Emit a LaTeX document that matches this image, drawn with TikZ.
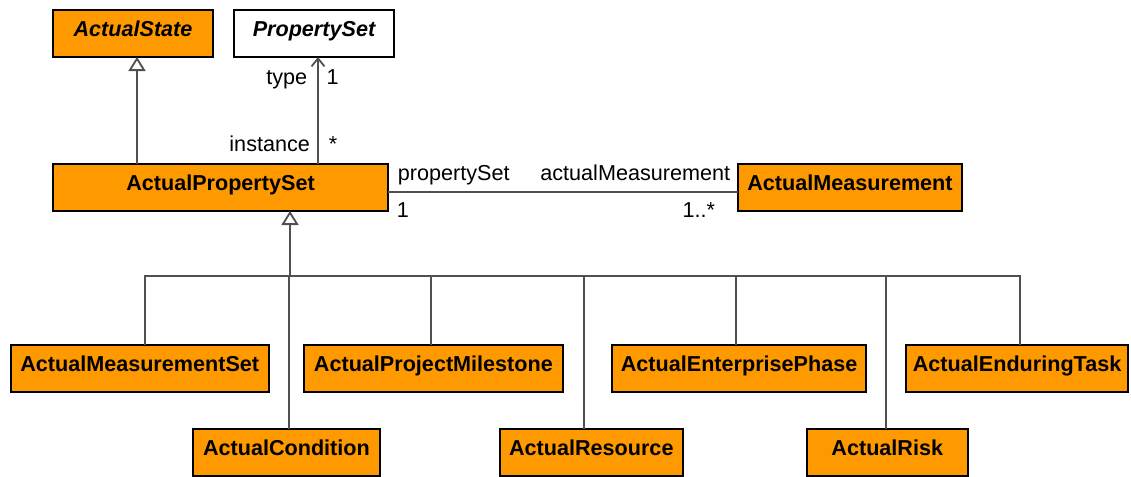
\documentclass[tikz,border=0pt]{standalone}
\usepackage{fontspec}
\setmainfont{Liberation Sans}
\usetikzlibrary{positioning, arrows.meta, calc}
\definecolor{clsorange}{HTML}{FF9900}
\definecolor{linegray}{HTML}{505050}

\begin{document}
\begin{tikzpicture}[
    x=0.5pt, y=-0.5pt,
    every node/.style={font=\fontsize{10.8}{13}\selectfont},
    cls/.style={
        rectangle, draw=black, line width=1pt, fill=clsorange, outer sep=0pt,
        inner xsep=0pt, inner ysep=0pt, text height=13.2pt, text depth=10.3pt,
        font=\fontsize{10.8}{13}\selectfont\bfseries, anchor=north west
    },
    abstractcls/.style={cls, font=\fontsize{10.8}{13}\selectfont\bfseries\itshape},
    gen/.style={-{Triangle[length=7pt, width=8.5pt, fill=white]}, line width=0.9pt, color=linegray},
    arr/.style={-{Straight Barb[length=4pt, width=6.5pt]}, line width=0.9pt, color=linegray},
    conn/.style={line width=0.9pt, color=linegray},
    role/.style={inner sep=0pt, text=black},
]
\useasboundingbox (0,0) rectangle (1131,477);

% Abstract classes (top row)
\node[abstractcls, minimum width=80pt] (state) at (53,10) {ActualState};
\node[abstractcls, minimum width=80pt, fill=white, right=10.5pt of state] (pset) {PropertySet};

% Main class and its measurements
\node[cls, minimum width=167.5pt] (aps) at (53,164) {ActualPropertySet};
\node[cls, minimum width=112pt, right=175pt of aps] (ameas) {ActualMeasurement};

% Subclasses (first row)
\node[cls, minimum width=129pt] (amset) at (10.7,345) {ActualMeasurementSet};
\node[cls, minimum width=129.3pt, right=17.7pt of amset] (apm) {ActualProjectMilestone};
\node[cls, minimum width=127pt, right=24.7pt of apm] (aep) {ActualEnterprisePhase};
\node[cls, minimum width=111pt, right=20pt of aep] (aet) {ActualEnduringTask};

% Subclasses (second row)
\node[cls, minimum width=93.7pt] (acond) at (192.7,429) {ActualCondition};
\node[cls, minimum width=91.2pt, right=60pt of acond] (ares) {ActualResource};
\node[cls, minimum width=80.2pt, right=62.3pt of ares] (arisk) {ActualRisk};

% ── Connectors ──
\coordinate (sx) at ($(state.south)+(4,0)$);
\draw[gen] (sx |- aps.north) -- (sx);

\coordinate (tx) at ($(pset.south)+(4,0)$);
\draw[arr] (tx |- aps.north) -- (tx)
    node[role, pos=0, anchor=base east, xshift=-3.6pt, yshift=6.2pt] {instance}
    node[role, pos=0, anchor=base west, xshift=5pt, yshift=6.2pt] {*}
    node[role, pos=1, anchor=base east, xshift=-5pt, yshift=-13.5pt] {type}
    node[role, pos=1, anchor=base west, xshift=3.8pt, yshift=-13.5pt] {1};

\coordinate (ax) at ($(aps.east)+(0,4.5)$);
\draw[conn] (ax) -- (ax -| ameas.west)
    node[role, pos=0, anchor=base west, xshift=4.5pt, yshift=6pt] {propertySet}
    node[role, pos=0, anchor=base west, xshift=4pt, yshift=-12.5pt] {1}
    node[role, pos=1, anchor=base east, xshift=-3.5pt, yshift=6pt] {actualMeasurement}
    node[role, pos=1, anchor=base east, xshift=-11pt, yshift=-12.5pt] {1..*};

\coordinate (hub) at ($(aps.south)+(69.5,65)$);
\draw[gen] (hub) -- (hub |- aps.south);
\foreach \c/\dx in {amset/5.3, apm/-2.6, aep/-3, aet/2.5, acond/2.4, ares/-7.5, arisk/-1.5}
    \draw[conn] ($(\c.north)+(\dx,0)$) |- (hub);

\end{tikzpicture}
\end{document}
